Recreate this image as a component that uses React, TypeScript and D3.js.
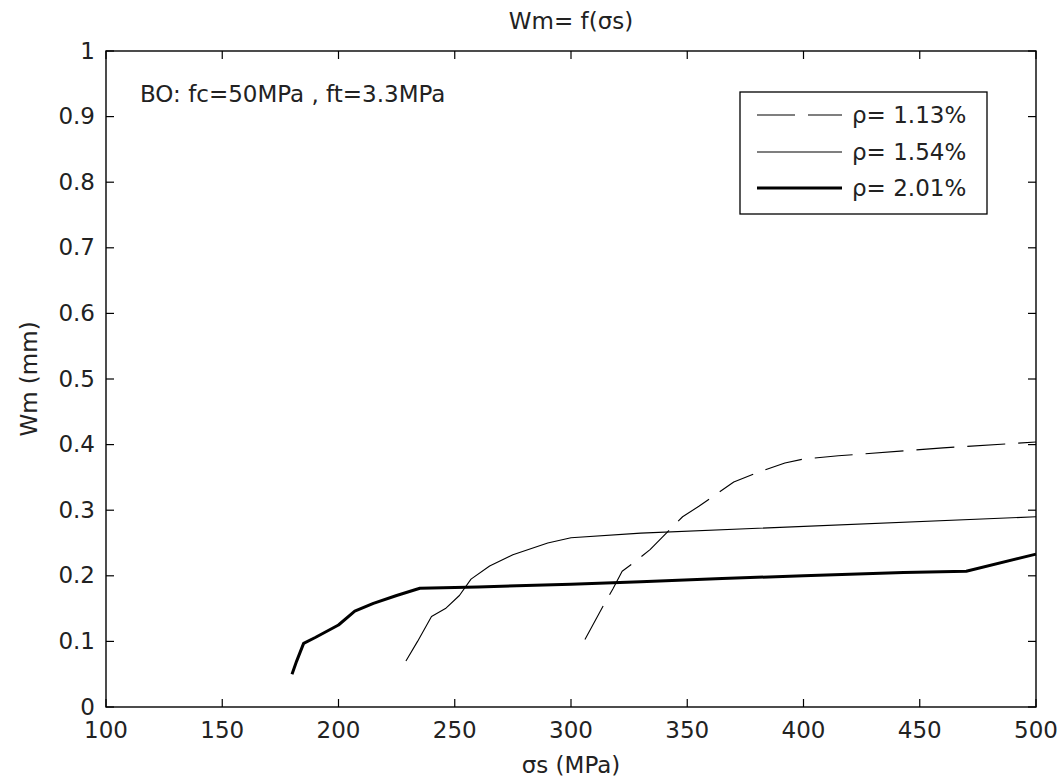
import React from "react";
import * as d3 from "d3";

// Steel stress σs (MPa) vs mean crack width Wm (mm), for three reinforcement ratios
const rho113X = [306, 314, 318, 322, 327, 334, 348, 355, 370, 380, 392, 400, 415, 460, 500];
const rho113Y = [0.103, 0.155, 0.18, 0.207, 0.22, 0.24, 0.29, 0.306, 0.343, 0.357, 0.372, 0.378, 0.383, 0.395, 0.404];

const rho154X = [229, 234, 240, 246, 252, 257, 265, 275, 290, 300, 330, 500];
const rho154Y = [0.07, 0.1, 0.138, 0.15, 0.17, 0.195, 0.215, 0.232, 0.25, 0.258, 0.265, 0.29];

const rho201X = [180, 182, 185, 190, 200, 207, 215, 225, 235, 260, 300, 330, 365, 400, 443, 470, 500];
const rho201Y = [0.05, 0.07, 0.097, 0.106, 0.125, 0.146, 0.158, 0.17, 0.181, 0.183, 0.187, 0.191, 0.196, 0.2, 0.205, 0.207, 0.233];

const xTicks = [100, 150, 200, 250, 300, 350, 400, 450, 500];
const yTicks = [0, 0.1, 0.2, 0.3, 0.4, 0.5, 0.6, 0.7, 0.8, 0.9, 1];

const seriesLabels = ["ρ= 1.13%", "ρ= 1.54%", "ρ= 2.01%"];
const titleText = "Wm= f(σs)";
const xLabel = "σs (MPa)";
const yLabel = "Wm (mm)";
const noteText = "BO: fc=50MPa , ft=3.3MPa";

const W = 1063;
const H = 780;
const left = 106;
const right = 1036;
const top = 51;
const bottom = 707;
const tickLen = 8;
const font = "'DejaVu Sans', sans-serif";
const fs = 23;
const ink = "#222";

export default function App() {
  const x = d3.scaleLinear().domain([100, 500]).range([left, right]);
  const y = d3.scaleLinear().domain([0, 1]).range([bottom, top]);

  const line = d3
    .line<[number, number]>()
    .x((d) => x(d[0]))
    .y((d) => y(d[1]));

  const zip = (xs: number[], ys: number[]) => xs.map((v, i) => [v, ys[i]] as [number, number]);

  const series = [
    { pts: zip(rho113X, rho113Y), width: 1.1, dash: "38,13" },
    { pts: zip(rho154X, rho154Y), width: 1.1, dash: undefined },
    { pts: zip(rho201X, rho201Y), width: 3, dash: undefined },
  ];

  const legendRows = [115, 152, 188];

  return (
    <svg
      width={W}
      height={H}
      style={{ position: "absolute", left: 0, top: 0, background: "#fff" }}
      fontFamily={font}
    >
      <rect x={0} y={0} width={W} height={H} fill="#fff" />

      {/* series */}
      <g fill="none" stroke="#000" strokeLinejoin="round">
        {series.map((s, i) => (
          <path
            key={i}
            d={line(s.pts) ?? ""}
            strokeWidth={s.width}
            strokeDasharray={s.dash}
          />
        ))}
      </g>

      {/* axes box */}
      <rect
        x={left}
        y={top}
        width={right - left}
        height={bottom - top}
        fill="none"
        stroke="#000"
        strokeWidth={1.4}
      />

      {/* inward ticks on all four sides */}
      <g stroke="#000" strokeWidth={1.2}>
        {xTicks.map((t) => (
          <g key={"x" + t}>
            <line x1={x(t)} x2={x(t)} y1={bottom} y2={bottom - tickLen} />
            <line x1={x(t)} x2={x(t)} y1={top} y2={top + tickLen} />
          </g>
        ))}
        {yTicks.map((t) => (
          <g key={"y" + t}>
            <line x1={left} x2={left + tickLen} y1={y(t)} y2={y(t)} />
            <line x1={right} x2={right - tickLen} y1={y(t)} y2={y(t)} />
          </g>
        ))}
      </g>

      {/* tick labels */}
      <g fontSize={fs} fill={ink}>
        {xTicks.map((t) => (
          <text key={"xl" + t} x={x(t)} y={bottom + 31} textAnchor="middle">
            {String(t)}
          </text>
        ))}
        {yTicks.map((t) => (
          <text key={"yl" + t} x={left - 11} y={y(t)} dy="0.33em" textAnchor="end">
            {String(t)}
          </text>
        ))}
      </g>

      {/* titles */}
      <text x={(left + right) / 2} y={29} textAnchor="middle" fontSize={fs} fill={ink}>
        {titleText}
      </text>
      <text x={(left + right) / 2} y={773} textAnchor="middle" fontSize={fs} fill={ink}>
        {xLabel}
      </text>
      <text
        transform={`translate(37, ${(top + bottom) / 2}) rotate(-90)`}
        textAnchor="middle"
        fontSize={fs}
        fill={ink}
      >
        {yLabel}
      </text>

      {/* annotation */}
      <text x={140} y={102} fontSize={fs} fill={ink}>
        {noteText}
      </text>

      {/* legend */}
      <rect x={740} y={92} width={247} height={122} fill="#fff" stroke="#000" strokeWidth={1.3} />
      {series.map((s, i) => (
        <g key={"lg" + i}>
          <line
            x1={757}
            x2={842}
            y1={legendRows[i]}
            y2={legendRows[i]}
            stroke="#000"
            strokeWidth={s.width}
            strokeDasharray={s.dash}
          />
          <text x={852} y={legendRows[i]} dy="0.36em" fontSize={fs} fill={ink}>
            {seriesLabels[i]}
          </text>
        </g>
      ))}
    </svg>
  );
}
